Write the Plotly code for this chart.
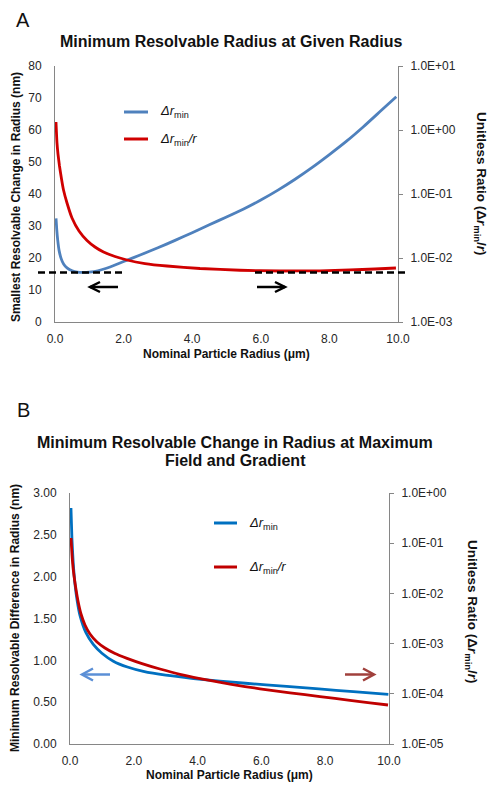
import plotly.graph_objects as go

W, H = 495, 790
FONT = "Arial, Liberation Sans, sans-serif"

# ---------------- data ----------------
# Panel A
a_x_blue = [0.03, 0.05, 0.08, 0.12, 0.18, 0.25, 0.35, 0.5, 0.65, 0.83, 1.0, 1.25, 1.5, 1.75, 2.0,
            2.5, 3.0, 3.5, 4.0, 4.5, 5.0, 5.5, 6.0, 6.5, 7.0, 7.5, 8.0, 8.5, 9.0, 9.5, 9.95]
a_dr_min = [32.4, 29.0, 25.5, 22.3, 19.8, 18.1, 16.9, 16.0, 15.6, 15.5, 15.6, 16.0, 16.8, 17.8, 18.9,
            21.0, 23.2, 25.5, 27.9, 30.4, 32.8, 35.3, 38.1, 41.2, 44.6, 48.3, 52.3, 56.5, 61.1, 66.0, 70.4]
a_x_red = [0.029, 0.058, 0.087, 0.131, 0.19, 0.248, 0.35, 0.496, 0.70, 0.933, 1.166, 1.414, 1.749,
           2.099, 2.624, 3.265, 4.227, 5.394, 6.56, 7.726, 8.6, 9.33, 9.94]
a_ratio = [1.334, 0.627, 0.422, 0.274, 0.172, 0.1155, 0.0724, 0.0422, 0.0264, 0.01877, 0.01486,
           0.01241, 0.01055, 0.00931, 0.0082, 0.0075, 0.00686, 0.00643, 0.00626, 0.00631, 0.0065,
           0.00673, 0.00698]

# Panel B
b_x_blue = [0.03, 0.06, 0.1, 0.16, 0.23, 0.31, 0.5, 0.73, 1.0, 1.36, 1.8, 2.3, 3.0, 3.87, 4.7,
            5.5, 6.79, 7.8, 8.88, 9.98]
b_dr_min = [2.82, 2.46, 2.17, 1.90, 1.70, 1.54, 1.33, 1.19, 1.085, 0.99, 0.92, 0.868, 0.822, 0.783,
            0.752, 0.726, 0.688, 0.658, 0.626, 0.594]
b_x_red = [0.031, 0.063, 0.10, 0.157, 0.251, 0.345, 0.47, 0.627, 0.846, 1.097, 1.411, 1.787, 2.257,
           2.821, 3.448, 4.075, 5.016, 5.956, 6.897, 7.837, 8.777, 9.404, 9.969]
b_ratio = [0.127, 0.0582, 0.0306, 0.0161, 7.06e-3, 3.89e-3, 2.35e-3, 1.553e-3, 1.076e-3, 8.17e-4,
           6.35e-4, 5.09e-4, 4.0e-4, 3.12e-4, 2.445e-4, 2.01e-4, 1.553e-4, 1.258e-4, 1.047e-4,
           8.79e-5, 7.42e-5, 6.62e-5, 5.98e-5]

x_tickvals = [0, 2, 4, 6, 8, 10]
x_ticktext = ["0.0", "2.0", "4.0", "6.0", "8.0", "10.0"]
a_left_ticks = [0, 10, 20, 30, 40, 50, 60, 70, 80]
a_right_tickvals = [1e-3, 1e-2, 1e-1, 1e0, 1e1]
a_right_ticktext = ["1.0E-03", "1.0E-02", "1.0E-01", "1.0E+00", "1.0E+01"]
b_left_tickvals = [0, 0.5, 1.0, 1.5, 2.0, 2.5, 3.0]
b_left_ticktext = ["0.00", "0.50", "1.00", "1.50", "2.00", "2.50", "3.00"]
b_right_tickvals = [1e-5, 1e-4, 1e-3, 1e-2, 1e-1, 1e0]
b_right_ticktext = ["1.0E-05", "1.0E-04", "1.0E-03", "1.0E-02", "1.0E-01", "1.0E+00"]

# ---------------- helpers ----------------
def px(x):
    return x / W

def py(y):
    return 1 - y / H

A_BLUE, A_RED = "#4F81BD", "#D00000"
B_BLUE, B_RED = "#0070C0", "#C00000"
AX = "#868686"
TXT = "#262626"

LINE = dict(width=2.8, shape="spline", smoothing=0.5)
fig = go.Figure()
fig.add_trace(go.Scatter(x=a_x_blue, y=a_dr_min, mode="lines", line=dict(color=A_BLUE, **LINE),
                         xaxis="x", yaxis="y", showlegend=False))
fig.add_trace(go.Scatter(x=a_x_red, y=a_ratio, mode="lines", line=dict(color=A_RED, **LINE),
                         xaxis="x", yaxis="y2", showlegend=False))
fig.add_trace(go.Scatter(x=b_x_blue, y=b_dr_min, mode="lines", line=dict(color=B_BLUE, **LINE),
                         xaxis="x2", yaxis="y3", showlegend=False))
fig.add_trace(go.Scatter(x=b_x_red, y=b_ratio, mode="lines", line=dict(color=B_RED, **LINE),
                         xaxis="x2", yaxis="y4", showlegend=False))

tickfont = dict(family=FONT, size=12, color=TXT)
base = dict(showline=True, linecolor=AX, linewidth=1, showgrid=False, zeroline=False,
            tickfont=tickfont, automargin=False)
common_x = dict(ticks="", tickvals=x_tickvals, ticktext=x_ticktext, range=[0, 10],
                ticklabelstandoff=6, **base)

A_dom_x = [px(55), px(398)]
A_dom_y = [py(322), py(66)]
B_dom_x = [px(70), px(389)]
B_dom_y = [py(744), py(493)]

fig.update_layout(
    width=W, height=H, margin=dict(l=0, r=0, t=0, b=0, pad=0), autosize=False,
    paper_bgcolor="white", plot_bgcolor="white", showlegend=False,
    font=dict(family=FONT, color=TXT),
    xaxis=dict(domain=A_dom_x, anchor="y", **common_x),
    yaxis=dict(domain=A_dom_y, anchor="x", range=[0, 80], tickvals=a_left_ticks, ticks="",
               ticklabelstandoff=10, **base),
    yaxis2=dict(overlaying="y", side="right", anchor="x", type="log", range=[-3, 1],
                tickvals=a_right_tickvals, ticktext=a_right_ticktext, ticks="outside", ticklen=4,
                tickcolor=AX, ticklabelstandoff=5, **base),
    xaxis2=dict(domain=B_dom_x, anchor="y3", **common_x),
    yaxis3=dict(domain=B_dom_y, anchor="x2", range=[0, 3], tickvals=b_left_tickvals,
                ticktext=b_left_ticktext, ticks="", ticklabelstandoff=10, **base),
    yaxis4=dict(overlaying="y3", side="right", anchor="x2", type="log", range=[-5, 0],
                tickvals=b_right_tickvals, ticktext=b_right_ticktext, ticks="outside", ticklen=4,
                tickcolor=AX, ticklabelstandoff=5, **base),
)

ann = []
def text(x, y, t, size, bold=False, angle=0, xanchor="center"):
    s = "<b>" + t + "</b>" if bold else t
    ann.append(dict(x=px(x), y=py(y), xref="paper", yref="paper", text=s, showarrow=False,
                    font=dict(family=FONT, size=size, color="#111"), textangle=angle,
                    xanchor=xanchor, yanchor="middle"))

# panel letters and titles
text(23, 20, "A", 20)
text(23, 410, "B", 20)
text(231, 42, "Minimum Resolvable Radius at Given Radius", 16, bold=True)
text(235, 442, "Minimum Resolvable Change in Radius at Maximum", 16, bold=True)
text(235, 460, "Field and Gradient", 16, bold=True)

# axis titles
text(16, 197, "Smallest Resolvable Change in Radius (nm)", 12, bold=True, angle=-90)
text(481, 184, "Unitless Ratio (Δ<i>r</i><sub>min</sub>/<i>r</i>)", 13.5, bold=True, angle=90)
text(226, 354, "Nominal Particle Radius (μm)", 12, bold=True)
text(15, 618, "Minimum Resolvable Difference in Radius (nm)", 12, bold=True, angle=-90)
text(472, 612, "Unitless Ratio (Δ<i>r</i><sub>min</sub>/<i>r</i>)", 13.5, bold=True, angle=90)
text(229, 775, "Nominal Particle Radius (μm)", 12, bold=True)

shapes = []
def seg(x0, y0, x1, y1, color, width, dash=None):
    d = dict(type="line", xref="paper", yref="paper", x0=px(x0), y0=py(y0), x1=px(x1), y1=py(y1),
             line=dict(color=color, width=width))
    if dash:
        d["line"]["dash"] = dash
    shapes.append(d)

def arrow(x_tail, x_head, y, color, w=2.5, hw=10, hh=6):
    seg(x_tail, y, x_head, y, color, w)
    dirn = 1 if x_head > x_tail else -1
    path = "M {} {} L {} {} L {} {}".format(px(x_head - dirn * hw), py(y - hh), px(x_head), py(y),
                                            px(x_head - dirn * hw), py(y + hh))
    shapes.append(dict(type="path", xref="paper", yref="paper", path=path, line=dict(color=color, width=w)))

# legends
seg(124, 112, 148, 112, A_BLUE, 3)
seg(124, 139, 148, 139, A_RED, 3)
text(158, 112, "<i>Δr</i><sub>min</sub>", 13, xanchor="left")
text(158, 139, "<i>Δr</i><sub>min</sub><i>/r</i>", 13, xanchor="left")
seg(214, 523, 237, 523, B_BLUE, 3)
seg(214, 567, 237, 567, B_RED, 3)
text(247, 523, "<i>Δr</i><sub>min</sub>", 13, xanchor="left")
text(247, 567, "<i>Δr</i><sub>min</sub><i>/r</i>", 13, xanchor="left")

# dashed reference lines and arrows (panel A)
seg(38, 272.5, 122, 272.5, "black", 2.5, dash="7px,4px")
seg(255, 272.5, 408, 272.5, "black", 2.5, dash="7px,4px")
arrow(118, 90, 287, "black", w=2.5, hw=10, hh=5)
arrow(257, 285, 287, "black", w=2.5, hw=10, hh=5)
# arrows (panel B)
arrow(110, 82, 674.5, "#5B8FD6", w=2.5, hw=11, hh=6)
arrow(345, 374, 674.5, "#A0403C", w=2.5, hw=11, hh=6)

fig.update_layout(annotations=ann, shapes=shapes)
fig.write_html("out.html", config={"displayModeBar": False},
               post_script="document.body.style.margin='0';document.body.style.overflow='hidden';")
